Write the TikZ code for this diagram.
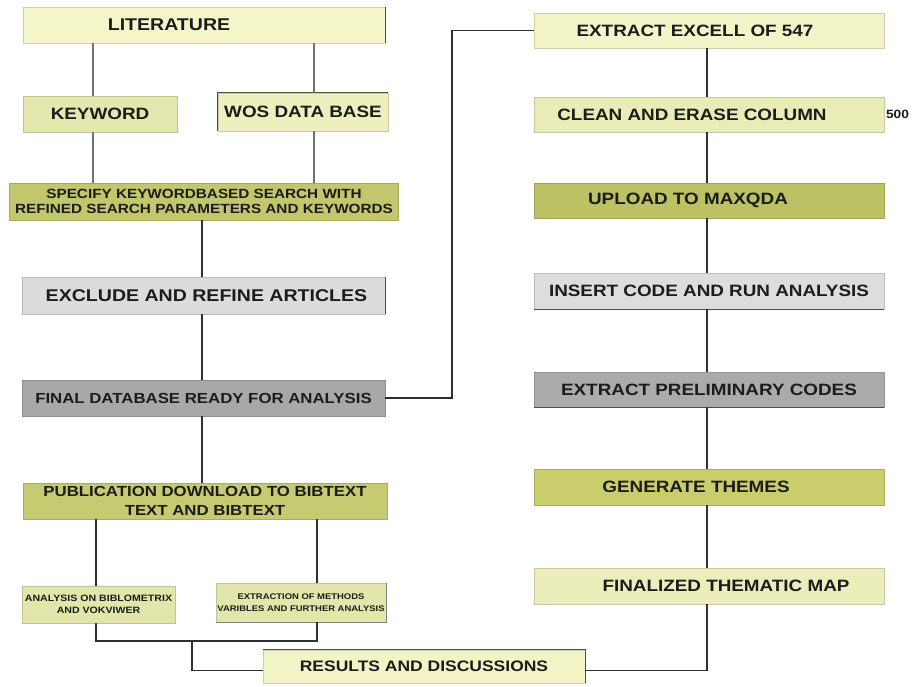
\documentclass[tikz,border=0pt]{standalone}
\usepackage{fontspec}
\setmainfont{Liberation Sans}[FakeStretch=1.15]
\definecolor{cLit}{HTML}{F4F6CA}
\definecolor{cKw}{HTML}{E5E8AE}
\definecolor{cWos}{HTML}{EDEFBF}
\definecolor{cSpec}{HTML}{C2C66C}
\definecolor{cExcl}{HTML}{DCDCDC}
\definecolor{cFin}{HTML}{A8A8A8}
\definecolor{cPub}{HTML}{C6CA70}
\definecolor{cSmall}{HTML}{E3E6AB}
\definecolor{cRes}{HTML}{F2F4C6}
\definecolor{cExt}{HTML}{F3F5C9}
\definecolor{cClean}{HTML}{EAECB8}
\definecolor{cUp}{HTML}{BCC163}
\definecolor{cIns}{HTML}{DDDDDD}
\definecolor{cPre}{HTML}{ABABAB}
\definecolor{cGen}{HTML}{C9CD6B}
\definecolor{cFmap}{HTML}{EBEDBB}
\definecolor{cTxt}{HTML}{1C1C1C}
\definecolor{cLineA}{HTML}{707070}
\definecolor{cLine}{HTML}{303030}
\begin{document}
\begin{tikzpicture}[x=1pt,y=-1pt,
  bx/.style={rectangle, inner sep=0pt, align=center, text=cTxt, draw=#1!85!black, line width=0.5pt, fill=#1},
  fbig/.style={font=\fontsize{17}{19}\selectfont\bfseries},
  fbr/.style={font=\fontsize{16.4}{19}\selectfont\bfseries},
  fmid/.style={font=\fontsize{14.6}{19}\selectfont\bfseries},
  fres/.style={font=\fontsize{15.2}{17}\selectfont\bfseries},
  fspec/.style={font=\fontsize{13.3}{15}\selectfont\bfseries},
  fana/.style={font=\fontsize{9.2}{12.3}\selectfont\bfseries},
  fext/.style={font=\fontsize{8.2}{12.3}\selectfont\bfseries},
  lbl/.style={text=cTxt, inner sep=0pt},
  conA/.style={draw=cLineA, line width=1.8pt},
  con/.style={draw=cLine, line width=1.2pt},
  edge/.style={draw=black!70, line width=1pt}]
\useasboundingbox[fill=white] (0,0) rectangle (912,687);

% left column
\node[bx=cLit, minimum width=362pt, minimum height=36pt,
      label={[lbl, fbig, xshift=-35pt]center:LITERATURE}] (lit) at (204,25) {};
\node[bx=cKw, fbr, minimum width=154pt, minimum height=36pt] (kw) at (100,114) {KEYWORD};
\node[bx=cWos, fbr, minimum width=170pt, minimum height=38pt] (wos) at (303,112) {WOS DATA BASE};
\node[bx=cSpec, fspec, minimum width=389pt, minimum height=37pt] (spec) at (204,201.5)
  {SPECIFY KEYWORDBASED SEARCH WITH\\REFINED SEARCH PARAMETERS AND KEYWORDS};
\node[bx=cExcl, minimum width=363pt, minimum height=37pt,
      label={[lbl, fbig, xshift=3pt]center:EXCLUDE AND REFINE ARTICLES}] (excl) at (203.5,295.5) {};
\node[bx=cFin, fmid, minimum width=363pt, minimum height=36pt] (fin) at (203.5,398) {FINAL DATABASE READY FOR ANALYSIS};
\node[bx=cPub, fmid, minimum width=364pt, minimum height=36pt] (pub) at (205,501)
  {PUBLICATION DOWNLOAD TO BIBTEXT\\TEXT AND BIBTEXT};
\node[bx=cSmall, fana, minimum width=153pt, minimum height=37pt] (ana) at (98.5,604.5)
  {ANALYSIS ON BIBLOMETRIX\\AND VOKVIWER};
\node[bx=cSmall, fext, minimum width=170pt, minimum height=39pt] (extr) at (301,602.5)
  {EXTRACTION OF METHODS\\VARIBLES AND FURTHER ANALYSIS};
\node[bx=cRes, fres, minimum width=322pt, minimum height=33pt] (res) at (424,666.5) {RESULTS AND DISCUSSIONS};

% right column
\node[bx=cExt, minimum width=350pt, minimum height=35pt,
      label={[lbl, fbr, xshift=-14pt]center:EXTRACT EXCELL OF 547}] (ext) at (709,30.5) {};
\node[bx=cClean, minimum width=350pt, minimum height=35pt,
      label={[lbl, fbr, xshift=-17pt]center:CLEAN AND ERASE COLUMN}] (clean) at (709,114.5) {};
\node[bx=cUp, minimum width=350pt, minimum height=35pt,
      label={[lbl, fbr, xshift=-21pt]center:UPLOAD TO MAXQDA}] (up) at (709,200.5) {};
\node[bx=cIns, fbr, minimum width=350pt, minimum height=36pt] (ins) at (709,291) {INSERT CODE AND RUN ANALYSIS};
\node[bx=cPre, fbr, minimum width=350pt, minimum height=35pt] (pre) at (709,389.5) {EXTRACT PRELIMINARY CODES};
\node[bx=cGen, minimum width=350pt, minimum height=36pt,
      label={[lbl, fbr, xshift=-13pt]center:GENERATE THEMES}] (gen) at (709,487) {};
\node[bx=cFmap, minimum width=350pt, minimum height=36pt,
      label={[lbl, fbr, xshift=17pt]center:FINALIZED THEMATIC MAP}] (fmap) at (709,586) {};
\node[lbl, font=\fontsize{12}{13}\selectfont\bfseries] (n500) at (897.5,114) {500};

% darker edges
\draw[edge] (lit.north east) -- (lit.south east);
\draw[edge] (wos.south west) -- (wos.north west) -- (wos.north east);
\draw[edge] (excl.north east) -- (excl.south east);
\draw[edge] (res.north west) -- (res.north east) -- (res.south east);
\draw[edge] (ins.south west) -- (ins.south east);
\draw[edge] (pre.south west) -- (pre.south east);
\draw[edge, draw=black!50] (extr.south west) -- (extr.south east) -- (extr.north east);

% column coordinates
\coordinate (xk) at (93,0);
\coordinate (xw) at (314,0);
\coordinate (xc) at (202,0);
\coordinate (xr) at (452,0);
\coordinate (xR) at (707,0);
\coordinate (xa) at (96,0);
\coordinate (xe) at (317,0);
\coordinate (jb) at (192,641);

% connectors
\draw[conA] (lit.south -| xk) -- (kw.north -| xk);
\draw[conA] (kw.south -| xk) -- (spec.north -| xk);
\draw[conA] (lit.south -| xw) -- (wos.north -| xw);
\draw[conA] (wos.south -| xw) -- (spec.north -| xw);
\draw[con] (spec.south -| xc) -- (excl.north -| xc);
\draw[con] (excl.south -| xc) -- (fin.north -| xc);
\draw[con] (fin.south -| xc) -- (pub.north -| xc);
\draw[con] (fin.east) -- (fin.east -| xr) |- (ext.west);
\draw[con] (ext.south -| xR) -- (clean.north -| xR);
\draw[con] (clean.south -| xR) -- (up.north -| xR);
\draw[con] (up.south -| xR) -- (ins.north -| xR);
\draw[con] (ins.south -| xR) -- (pre.north -| xR);
\draw[con] (pre.south -| xR) -- (gen.north -| xR);
\draw[con] (gen.south -| xR) -- (fmap.north -| xR);
\draw[con] (fmap.south -| xR) |- ([yshift=-4pt]res.east);
\draw[con] (pub.south -| xa) -- (ana.north -| xa);
\draw[con] (pub.south -| xe) -- (extr.north -| xe);
\draw[con] (ana.south -| xa) |- (jb) -| (extr.south -| xe);
\draw[con] (jb) |- ([yshift=-4pt]res.west);
\end{tikzpicture}
\end{document}
